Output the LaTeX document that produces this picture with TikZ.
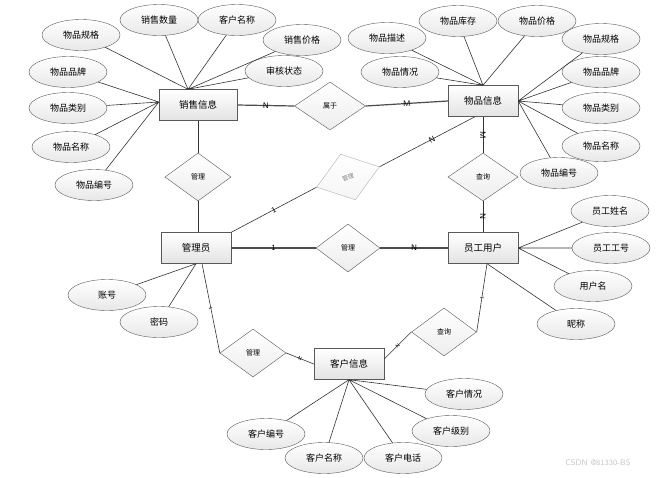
\documentclass[tikz,border=0pt]{standalone}
\usepackage{fontspec}
\newfontfamily\cjk{Noto Sans CJK SC}
\usepackage{tikz}
\usetikzlibrary{shapes.geometric}

\begin{document}
\begin{tikzpicture}[x=1pt,y=-1pt,
  ent/.style={draw=gray!70!black,top color=white,bottom color=gray!22,minimum width=70pt,minimum height=31pt,inner sep=0pt,font=\cjk\fontsize{9.5}{11}\selectfont},
  attr/.style={ellipse,draw=gray!70!black,top color=white,bottom color=gray!18,minimum width=78pt,minimum height=31pt,inner sep=0pt,font=\cjk\fontsize{9}{10}\selectfont},
  rel/.style={diamond,draw=gray!70!black,top color=white,bottom color=gray!14,minimum width=66pt,minimum height=48pt,inner sep=0pt,font=\cjk\fontsize{7}{8}\selectfont},
  ln/.style={draw=gray!40!black,line width=0.6pt},
  rl/.style={draw=gray!60!black,line width=1.2pt},
  lbl/.style={font=\sffamily\fontsize{8}{8}\selectfont,inner sep=0.5pt},
  tiny/.style={lbl,sloped,font=\sffamily\fontsize{5}{5}\selectfont}]
  \fill[white] (0,0) rectangle (659,477);
  \useasboundingbox (0,0) rectangle (659,477);

  \node[ent,minimum width=78pt] (xs) at (198,105) {销售信息};
  \node[ent] (wp) at (483,101) {物品信息};
  \node[ent] (gl) at (196,248) {管理员};
  \node[ent] (yg) at (483,248) {员工用户};
  \node[ent] (kh) at (349,364) {客户信息};

  \node[rel,minimum width=71pt] (sy) at (330,106) {属于};
  \node[rel] (gl1) at (198,177) {管理};
  \node[rel,rotate=18,draw=gray!60,bottom color=gray!8,text=gray,font=\cjk\fontsize{6}{7}\selectfont] (gl2) at (348,177) {管理};
  \node[rel,minimum width=64pt] (gl3) at (348,248) {管理};
  \node[rel] (gl4) at (253,353) {管理};
  \node[rel,minimum width=70pt] (cx1) at (483,177) {查询};
  \node[rel,minimum width=65pt] (cx2) at (444,332) {查询};

  \node[attr] (xs1) at (81,35) {物品规格};
  \node[attr] (xs2) at (159,20) {销售数量};
  \node[attr] (xs3) at (237,20) {客户名称};
  \node[attr] (xs4) at (302,40) {销售价格};
  \node[attr] (xs5) at (284,71) {审核状态};
  \node[attr] (xs6) at (68,72) {物品品牌};
  \node[attr] (xs7) at (68,108) {物品类别};
  \node[attr] (xs8) at (71,147) {物品名称};
  \node[attr] (xs9) at (94,185) {物品编号};

  \node[attr] (wp1) at (387,38) {物品描述};
  \node[attr] (wp2) at (458,21) {物品库存};
  \node[attr] (wp3) at (537,21) {物品价格};
  \node[attr] (wp4) at (400,72) {物品情况};
  \node[attr] (wp5) at (601,39) {物品规格};
  \node[attr] (wp6) at (601,72) {物品品牌};
  \node[attr] (wp7) at (601,108) {物品类别};
  \node[attr] (wp8) at (601,146) {物品名称};
  \node[attr] (wp9) at (559,173) {物品编号};

  \node[attr] (yg1) at (610,211) {员工姓名};
  \node[attr] (yg2) at (611,248) {员工工号};
  \node[attr] (yg3) at (593,286) {用户名};
  \node[attr] (yg4) at (576,324) {昵称};

  \node[attr] (gl5) at (107,295) {账号};
  \node[attr] (gl6) at (159,322) {密码};

  \node[attr] (kh1) at (464,394) {客户情况};
  \node[attr] (kh2) at (451,431) {客户级别};
  \node[attr] (kh3) at (266,434) {客户编号};
  \node[attr] (kh4) at (324,458) {客户名称};
  \node[attr] (kh5) at (403,458) {客户电话};

  \node[text=gray!45,font=\sffamily\fontsize{8}{8}\selectfont] (wm) at (598,463) {CSDN @81330-BS};

  \coordinate (xst) at ([xshift=-10pt]xs.north);
  \coordinate (xsl) at ([yshift=3pt]xs.west);
  \coordinate (glb) at ([xshift=6pt]gl.south);
  \coordinate (ygb) at ([xshift=4pt]yg.south);

  \draw[ln] (xs1) -- (xst) (xs2) -- (xst) (xs3) -- (xst) (xs4) -- (xst) (xs5) -- (xst);
  \draw[ln] (xs6) -- (xsl) (xs7) -- (xsl) (xs8) -- (xsl) (xs9) -- (xsl);
  \draw[ln] (wp1) -- (wp.north) (wp2) -- (wp.north) (wp3) -- (wp.north) (wp4) -- (wp.north);
  \draw[ln] (wp5) -- (wp.east) (wp6) -- (wp.east) (wp7) -- (wp.east) (wp8) -- (wp.east) (wp9) -- (wp.east);
  \draw[ln] (yg1) -- (yg.east) (yg2) -- (yg.east) (yg3) -- (yg.east) (yg4) -- (ygb);
  \draw[ln] (gl5) -- (gl.south) (gl6) -- (gl.south);
  \draw[ln] (kh1) -- (kh.south) (kh2) -- (kh.south) (kh3) -- (kh.south) (kh4) -- (kh.south) (kh5) -- (kh.south);

  \draw[rl] (xs.east) -- node[lbl]{N} (sy.west);
  \draw[rl] (sy.east) -- node[lbl]{M} (wp.west);
  \draw[ln] (xs.south -| gl1.north) -- (gl1.north);
  \draw[ln] (gl1.south) -- (gl1.south |- gl.north);
  \draw[ln] (gl.north east) -- node[lbl,sloped]{1} (gl2.west);
  \draw[ln] (gl2.east) -- node[lbl,sloped,pos=0.55]{N} ([xshift=-8pt]wp.south);
  \draw[ln] (wp.south) -- node[lbl,sloped]{M} (cx1.north);
  \draw[ln] (cx1.south) -- node[lbl,sloped]{N} (yg.north);
  \draw[rl] (gl.east) -- node[lbl]{1} (gl3.west);
  \draw[rl] (gl3.east) -- node[lbl]{N} (yg.west);
  \draw[ln] (glb) -- node[tiny]{1} (gl4.west);
  \draw[ln] (gl4.east) -- node[tiny]{N} (kh.west);
  \draw[ln] ([yshift=5pt]kh.east) -- node[tiny]{N} (cx2.west);
  \draw[ln] (cx2.east) -- node[tiny]{1} (ygb);
\end{tikzpicture}
\end{document}
